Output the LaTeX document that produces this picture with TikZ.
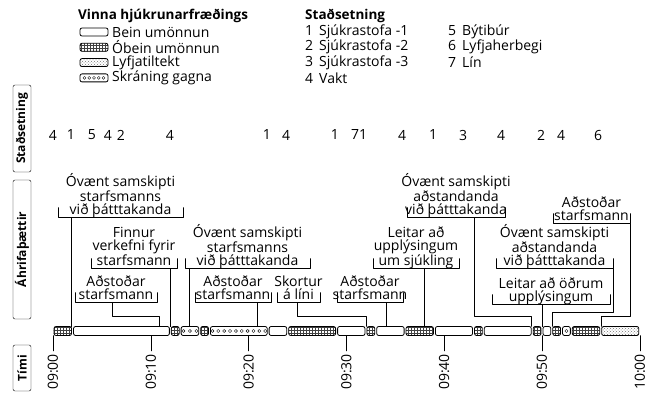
\documentclass[tikz,border=0pt]{standalone}
\usepackage{fontspec}
\setmainfont{Open Sans}
\usetikzlibrary{patterns}

\newcommand\brk[2]{\draw ([xshift=-#2/2,yshift=10pt]#1.south) -- ([xshift=-#2/2]#1.south) -- ([xshift=#2/2]#1.south) -- ([xshift=#2/2,yshift=10pt]#1.south);}

\begin{document}
\begin{tikzpicture}[x=1pt,y=-1pt,line join=round,line cap=round,font=\fontsize{14}{12.8}\selectfont]
	\tikzset{
		lbl/.style={align=center,inner sep=0pt,text depth=3pt,anchor=south,yshift=4.5pt},
		side/.style={draw,rounded corners=2pt,rotate=90,font=\bfseries\fontsize{12}{12}\selectfont,inner sep=1pt,minimum height=18pt},
		seg/.style={draw,thick,rounded corners=2pt,fill=white},
		segb/.style={seg},
		sego/.style={seg,pattern=grid,pattern color=black!75},
		segl/.style={seg,pattern=crosshatch dots,pattern color=black!55},
		segs/.style={seg},
	}
	\useasboundingbox (0,0) rectangle (654,396);
	% legend
	\node[anchor=west,inner sep=0,font=\bfseries\fontsize{13.5}{13.5}\selectfont] (v0) at (78,16) {Vinna hjúkrunarfræðings};
	\foreach \k/\t [count=\i] in {b/Bein umönnun,o/Óbein umönnun,l/Lyfjatiltekt,s/Skráning gagna}{
		\pgfmathsetmacro\yy{32+15.3*(\i-1)}
		\draw[seg\k] (80,\yy-4) rectangle (108,\yy+4);
		\node[anchor=west,inner sep=0] (v\i) at (112,\yy) {\t};
	}
	\foreach \j in {0,...,4} \draw (84.5+\j*4.75,77.9) circle (1.5pt);
	\node[anchor=west,inner sep=0,font=\bfseries\fontsize{13.5}{13.5}\selectfont] (s0) at (305,16) {Staðsetning};
	\foreach \n/\t [count=\i] in {1/Sjúkrastofa -1,2/Sjúkrastofa -2,3/Sjúkrastofa -3,4/Vakt}
		\node[anchor=west,inner sep=0] (s\i) at (305,32+15.3*\i-15.3) {\makebox[14pt][l]{\n}\t};
	\foreach \n/\t [count=\i] in {5/Býtibúr,6/Lyfjaherbegi,7/Lín}
		\node[anchor=west,inner sep=0] (s\n) at (448,32+15.3*\i-15.3) {\makebox[14pt][l]{\n}\t};
	% row titles
	\node[side,minimum width=87pt] (ls) at (22,128.5) {Staðsetning};
	\node[side,minimum width=139pt] (la) at (22,249.5) {Áhrifaþættir};
	\node[side,minimum width=46pt] (lt) at (22,368) {Tími};
	% locations
	\foreach \x/\n [count=\i] in {53/4,71/1,92/5,108/4,121/2,170/4,267/1,286/4,335/1,355/7,363/1,402/4,433/1,463/3,501/4,541/2,561/4,598/6}
		\node[inner sep=0] (p\i) at (\x,135) {\n};
	% time bar
	\begin{scope}[shift={(53,331)},x=9.78pt]
		\foreach \a/\b/\k in {0/2/o,2/12/b,12/13/o,13/15/s,15/16/o,16/22/s,22/24/b,24/29/o,29/32/b,32/33/o,33/36/b,36/39/o,39/43/b,43/44/o,44/49/b,49/50/o,50/51/b,51/52/o,52/53/s,53/56/o,56/60/l}
			\draw[seg\k] (\a+0.1,-4.5) rectangle (\b-0.1,4.5);
		\foreach \a/\b in {13/15,16/22,52/53}{
			\pgfmathtruncatemacro\n{max(1,(\b-\a)*9.78/5.6)}
			\foreach \j in {1,...,\n} \draw ({\a+(\b-\a)*(\j-0.5)/\n},0) circle (1.6pt);
		}
		\foreach \t/\lab in {0/09:00,10/09:10,20/09:20,30/09:30,40/09:40,50/09:50,60/10:00}{
			\draw (\t,4.5) -- (\t,20);
			\node[rotate=90,anchor=east,inner sep=0] (t\t) at (\t,23) {\lab};
		}
	\end{scope}
	\foreach \x [count=\i] in {71,170,159,189,257,366,386,424,531,601,552,542}
		\coordinate (b\i) at (\x,326.5);
	% factors
	\node[lbl] (a1) at (120.5,222) {Óvænt samskipti\\starfsmanns\\við þátttakanda};
	\node[lbl] (a2) at (134,273) {Finnur\\verkefni fyrir\\starfsmann};
	\node[lbl] (a3) at (116,307) {Aðstoðar\\starfsmann};
	\node[lbl] (a4) at (247.5,273) {Óvænt samskipti\\starfsmanns\\við þátttakanda};
	\node[lbl] (a5) at (233,307) {Aðstoðar\\starfsmann};
	\node[lbl] (a6) at (298.5,307) {Skortur\\á líni};
	\node[lbl] (a7) at (370,307) {Aðstoðar\\starfsmann};
	\node[lbl] (a8) at (416,273) {Leitar að\\upplýsingum\\um sjúkling};
	\node[lbl] (a9) at (456,222) {Óvænt samskipti\\aðstandanda\\við þátttakanda};
	\node[lbl] (a10) at (591.5,228) {Aðstoðar\\starfsmann};
	\node[lbl] (a11) at (554.5,273) {Óvænt samskipti\\aðstandanda\\við þátttakanda};
	\node[lbl] (a12) at (551,309) {Leitar að öðrum\\upplýsingum};
	\foreach \i/\w in {1/125,2/86,3/82,4/125,5/76,6/43,7/66,8/86,9/98,10/77,11/117,12/118} \brk{a\i}{\w}
	\foreach \i in {1,2,4,5,7,8,12} \draw (b\i |- a\i.south) -- (b\i);
	\draw ([xshift=-4pt]a3.south) |- ([yshift=10pt]b3) -- (b3);
	\draw ([xshift=-1.5pt]a6.south) |- ([yshift=10pt]b6) -- (b6);
	\draw ([xshift=18pt]a9.south) |- ([yshift=10pt]b9) -- (b9);
	\draw ([xshift=38.5pt]a10.south) |- ([yshift=10pt]b10) -- (b10);
	\draw ([xshift=58.5pt]a11.south) |- ([yshift=14pt]b11) -- (b11);
\end{tikzpicture}
\end{document}
